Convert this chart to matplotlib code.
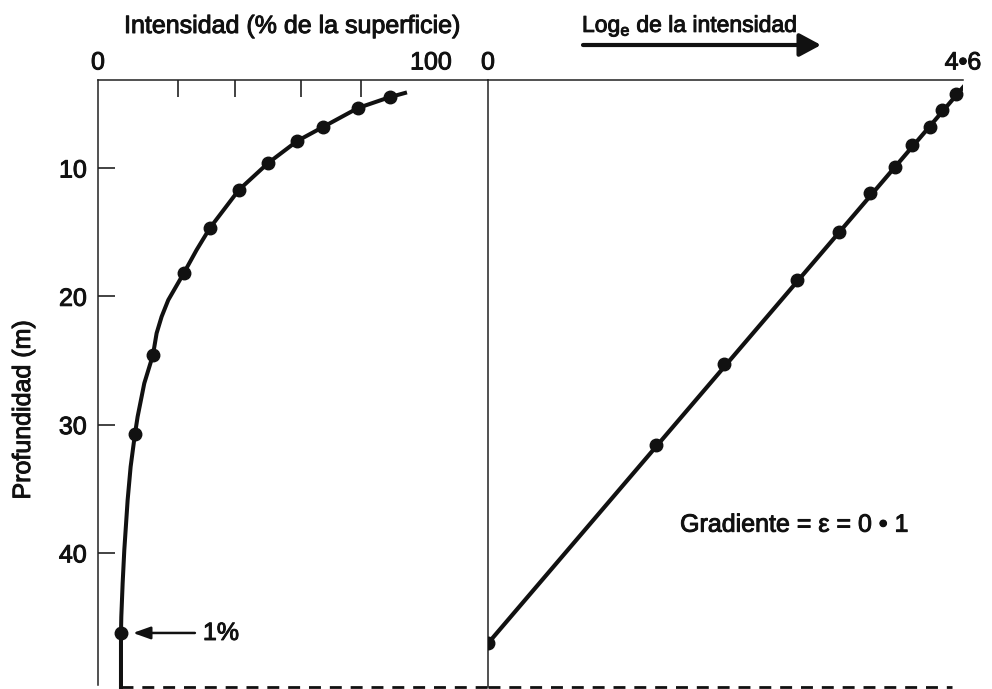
import matplotlib
matplotlib.use('Agg')
import matplotlib.pyplot as plt
import matplotlib.patheffects as pe
from matplotlib.patches import FancyArrowPatch

plt.rcParams['font.family'] = ['Liberation Sans', 'DejaVu Sans']
plt.rcParams['mathtext.fontset'] = 'custom'
plt.rcParams['mathtext.rm'] = 'Liberation Sans'

# ---------------- data ----------------
# left panel: intensity (% of surface) vs depth (m)
depth_pts = [4.47, 5.32, 6.80, 7.90, 9.61, 11.71, 14.68, 18.18, 24.58, 30.73, 46.24]
intensity_pts = [87.7, 78.1, 67.6, 59.8, 51.1, 42.3, 33.6, 25.8, 16.5, 11.1, 6.9]
# drawn curve (includes the ends of the line)
curve_depth = [4.15, 4.47, 5.32, 6.80, 7.90, 9.61, 11.71, 14.68, 16.39, 18.18, 20.29,
               21.59, 22.88, 24.58, 26.78, 28.08, 29.38, 30.73, 33.28, 35.88, 39.77,
               42.37, 44.97, 46.24, 50.45]
curve_int = [92.2, 87.7, 78.1, 67.6, 59.8, 51.1, 42.3, 33.6, 29.6, 25.8, 21.1,
             19.1, 17.6, 16.5, 13.9, 12.9, 11.9, 11.1, 9.8, 8.9, 7.9,
             7.4, 7.0, 6.9, 6.9]

# right panel: log_e intensity vs depth
log_depth = [4.26, 5.48, 6.78, 8.21, 9.90, 11.97, 15.01, 18.73, 25.30, 31.59, 47.05]
log_val = [4.53, 4.40, 4.28, 4.11, 3.94, 3.70, 3.40, 2.99, 2.29, 1.63, 0.0]
log_line_depth = [3.53, 47.05]
log_line_val = [4.62, 0.0]

y_ticks = [10, 20, 30, 40]
left_top_ticks = [0, 100]
left_minor_ticks = [24, 41, 61, 79]
right_top_ticks = [0, 4.6]
right_top_labels = ['0', '4•6']
bottom_depth = 50.45

W, H = 992, 689
fig = plt.figure(figsize=(W / 100, H / 100), dpi=100)

def d_of_y(y):
    return 10 + (y - 168) / 12.83

ytop, ybot = d_of_y(80), d_of_y(689)
FS = 18
col = '#111111'
bold = [pe.withStroke(linewidth=0.7, foreground=col)]

# -------- left axes --------
ax1 = fig.add_axes([98 / W, 0, 390 / W, (689 - 80) / H])
ax1.set_xlim(0, 390 / 3.33)
ax1.set_ylim(ybot, ytop)
for s in ['right', 'bottom']:
    ax1.spines[s].set_visible(False)
for s in ['top', 'left']:
    ax1.spines[s].set_linewidth(1.1)
    ax1.spines[s].set_color('#222222')
ax1.spines['left'].set_bounds(ytop, d_of_y(685))
ax1.xaxis.set_ticks_position('top')
ax1.set_xticks(left_top_ticks)
ax1.set_xticks(left_minor_ticks, minor=True)
ax1.tick_params(axis='x', which='major', length=0, pad=4, labelsize=FS, colors=col)
ax1.tick_params(axis='x', which='minor', direction='in', length=12, width=1.2, color='#222222')
ax1.set_yticks(y_ticks)
ax1.tick_params(axis='y', direction='in', length=12, width=1.2, pad=8, labelsize=FS,
                color='#222222', labelcolor=col)

ax1.plot(curve_int, curve_depth, color=col, lw=2.9, solid_joinstyle='round', zorder=3)
ax1.plot(intensity_pts, depth_pts, 'o', color=col, ms=9, zorder=4)
ax1.plot([6.9, 390 / 3.33], [bottom_depth, bottom_depth], color=col, lw=2,
         dashes=(4.3, 3.2), clip_on=False)

ax1.annotate('', xy=(10.5, 46.24), xytext=(29.1, 46.24),
             arrowprops=dict(arrowstyle='-|>,head_length=0.7,head_width=0.25', lw=1.8,
                             color=col, shrinkA=0, shrinkB=0, mutation_scale=15))
ax1.text(31.5, 46.24, '1%', fontsize=FS, color=col, ha='left', va='center',
         path_effects=bold)

# -------- right axes --------
ax2 = fig.add_axes([488 / W, 0, 475 / W, (689 - 80) / H])
ax2.set_xlim(0, 4.6)
ax2.set_ylim(ybot, ytop)
for s in ['right', 'bottom']:
    ax2.spines[s].set_visible(False)
for s in ['top', 'left']:
    ax2.spines[s].set_linewidth(1.1)
    ax2.spines[s].set_color('#222222')
ax2.spines['left'].set_bounds(ytop, bottom_depth)
ax2.xaxis.set_ticks_position('top')
ax2.set_xticks(right_top_ticks)
ax2.set_xticklabels(right_top_labels)
ax2.tick_params(axis='x', length=0, pad=4, labelsize=FS, colors=col)
ax2.set_yticks([])

ax2.plot(log_line_val, log_line_depth, color=col, lw=3.0, zorder=3)
ax2.plot(log_val, log_depth, 'o', color=col, ms=9, zorder=4)
ax2.plot([0, 4.49], [bottom_depth, bottom_depth], color=col, lw=2,
         dashes=(4.3, 3.2), clip_on=False)
ax2.text(1.86, 37.8, 'Gradiente = ε = 0 • 1', fontsize=FS, color=col,
         ha='left', va='center', path_effects=bold)

for lab in ax1.get_xticklabels() + ax1.get_yticklabels() + ax2.get_xticklabels():
    lab.set_path_effects(bold)

# -------- figure-level text --------
fig.text(292 / W, 1 - 33 / H, 'Intensidad (% de la superficie)', fontsize=FS,
         color=col, ha='center', va='baseline', path_effects=bold)
fig.text(582 / W, 1 - 32 / H, r'Log$_\mathregular{e}$ de la intensidad', fontsize=16.5,
         color=col, ha='left', va='baseline', path_effects=bold)
fig.text(23 / W, 1 - 410 / H, 'Profundidad (m)', fontsize=FS, color=col,
         rotation=90, ha='center', va='center', path_effects=bold)
fig.add_artist(FancyArrowPatch(
    (583 / W, 1 - 45 / H), (821 / W, 1 - 45 / H), transform=fig.transFigure,
    arrowstyle='-|>,head_length=0.65,head_width=0.35', mutation_scale=20,
    lw=3.0, color=col, shrinkA=0, shrinkB=0))

fig.savefig('out.png', dpi=100, facecolor='white')
